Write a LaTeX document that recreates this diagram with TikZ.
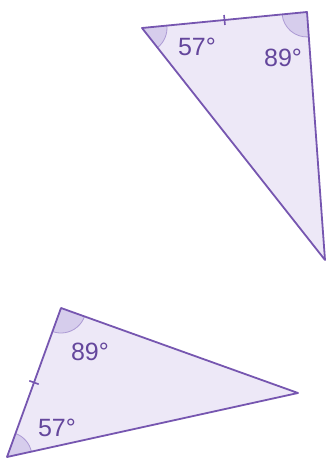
\documentclass[tikz,border=0pt]{standalone}
\usepackage{fontspec}
\setsansfont{Liberation Sans}
\usetikzlibrary{angles,calc}

\definecolor{edgepurple}{RGB}{118,86,176}
\definecolor{fillpurple}{RGB}{237,232,247}
\definecolor{anglepurple}{RGB}{214,205,236}
\definecolor{arcpurple}{RGB}{172,154,212}
\definecolor{textpurple}{RGB}{100,70,156}

\tikzset{
  tri/.style={draw=edgepurple, line width=1.8pt, line join=round},
  ang/.style={draw=arcpurple, fill=anglepurple, line width=0.8pt, angle radius=25pt},
  tick/.style={draw=edgepurple, line width=1.6pt},
  deg/.style={text=textpurple, font=\sffamily\fontsize{25}{25}\selectfont, inner sep=0pt}
}

\begin{document}
\begin{tikzpicture}[x=1pt, y=1pt]

    \useasboundingbox (0,0) rectangle (328,466);

    % Upper triangle
    \coordinate (A) at (142,438);
    \coordinate (B) at (307,454);
    \coordinate (C) at (325,206);
    \fill[fillpurple] (A) -- (B) -- (C) -- cycle;
    \pic[ang] {angle = C--A--B};
    \pic[ang] {angle = A--B--C};
    \draw[tri] (A) -- (B) -- (C) -- cycle;

    % Equal side mark
    \coordinate (mAB) at ($(A)!0.5!(B)$);
    \draw[tick] ($(mAB)!5pt!90:(B)$) -- ($(mAB)!5pt!-90:(B)$);

    \node[deg] (aA) at (197,419) {57\textdegree};
    \node[deg] (aB) at (283,408) {89\textdegree};

    % Lower triangle
    \coordinate (D) at (61,158);
    \coordinate (E) at (298,73);
    \coordinate (F) at (7,9);
    \fill[fillpurple] (D) -- (E) -- (F) -- cycle;
    \pic[ang] {angle = F--D--E};
    \pic[ang] {angle = E--F--D};
    \draw[tri] (D) -- (E) -- (F) -- cycle;

    % Equal side mark
    \coordinate (mDF) at ($(D)!0.5!(F)$);
    \draw[tick] ($(mDF)!5pt!90:(D)$) -- ($(mDF)!5pt!-90:(D)$);

    \node[deg] (aD) at (90,114) {89\textdegree};
    \node[deg] (aF) at (57,38) {57\textdegree};

\end{tikzpicture}
\end{document}
